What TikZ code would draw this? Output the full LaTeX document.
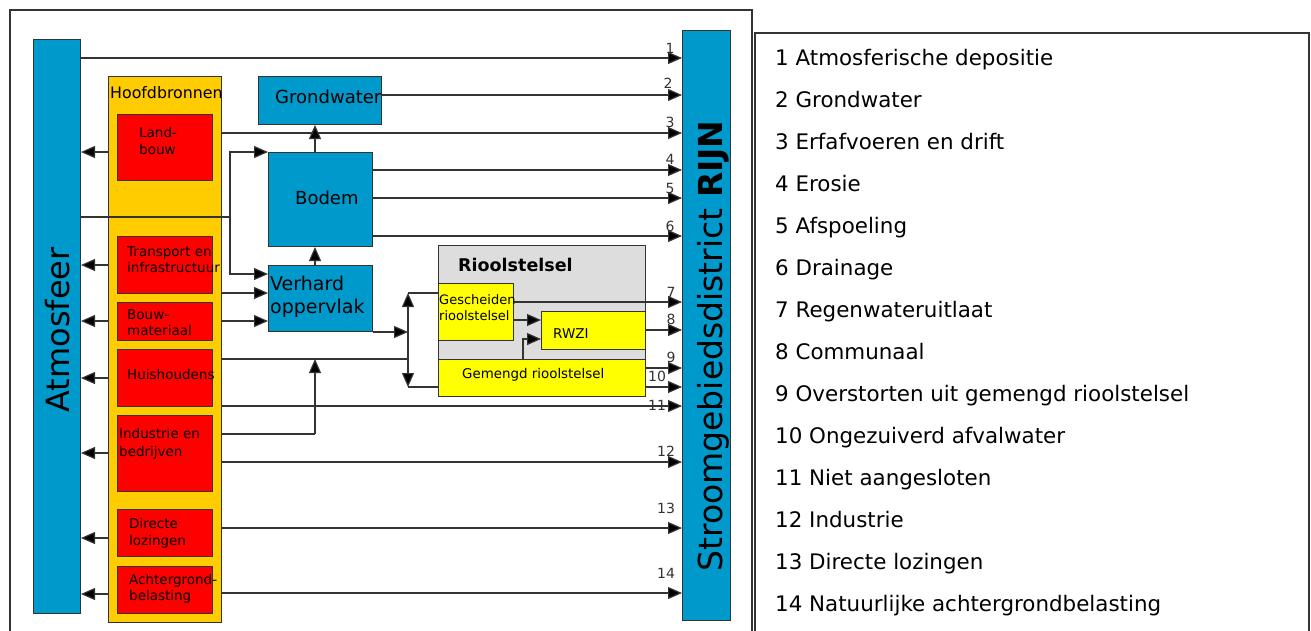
\documentclass[tikz,border=0pt]{standalone}
\usepackage{fontspec}
\setmainfont{DejaVu Sans}
\usetikzlibrary{arrows.meta}
\definecolor{cblue}{HTML}{0099CC}
\definecolor{corange}{HTML}{FFCC00}
\definecolor{cred}{HTML}{FF0000}
\definecolor{cyel}{HTML}{FFFF00}
\definecolor{cgray}{HTML}{DDDDDD}
\definecolor{cline}{HTML}{333333}
\newcommand\myfs[2]{\fontsize{#1}{#2}\selectfont}
\begin{document}
\begin{tikzpicture}[x=1pt,y=-1pt,
 box/.style={draw=cline, line width=1pt, inner sep=0pt, anchor=north west},
 ln/.style={draw=cline, line width=1.2pt},
 arr/.style={ln, -{Triangle[length=14pt,width=12pt,fill=black]}},
 txt/.style={inner sep=0pt, anchor=west, align=left},
 num/.style={inner sep=0pt, font=\myfs{14}{14}, text=cline},
 leg/.style={inner sep=0pt, anchor=base west, font=\myfs{21.4}{24}},
]
\useasboundingbox (0,0) rectangle (1311,630);
\fill[white] (0,0) rectangle (1311,630);
% frames
\draw[ln] (10,640) -- (10,10) -- (752,10) -- (752,640);
\draw[ln] (755,640) -- (755,33) -- (1309,33) -- (1309,640);
% boxes
\node[box, fill=cblue, minimum width=47pt, minimum height=574pt] (atm) at (33,39) {};
\node[box, fill=corange, minimum width=113pt, minimum height=546pt] (hoof) at (108,76) {};
\node[box, fill=cred, minimum width=95pt, minimum height=66pt] (land) at (117,114) {};
\node[box, fill=cred, minimum width=95pt, minimum height=57pt] (trans) at (117,236) {};
\node[box, fill=cred, minimum width=95pt, minimum height=38pt] (bouw) at (117,302) {};
\node[box, fill=cred, minimum width=95pt, minimum height=57pt] (huis) at (117,349) {};
\node[box, fill=cred, minimum width=95pt, minimum height=76pt] (ind) at (117,415) {};
\node[box, fill=cred, minimum width=95pt, minimum height=47pt] (dir) at (117,509) {};
\node[box, fill=cred, minimum width=95pt, minimum height=47pt] (acht) at (117,566) {};
\node[box, fill=cblue, minimum width=123pt, minimum height=48pt] (grond) at (258,76) {};
\node[box, fill=cblue, minimum width=104pt, minimum height=94pt] (bodem) at (268,152) {};
\node[box, fill=cblue, minimum width=104pt, minimum height=66pt] (verh) at (268,265) {};
\node[box, fill=cgray, minimum width=207pt, minimum height=125pt] (riool) at (438,245) {};
\node[box, fill=cyel, minimum width=75pt, minimum height=57pt] (gesch) at (438,283) {};
\node[box, fill=cyel, minimum width=104pt, minimum height=38pt] (rwzi) at (541,311) {};
\node[box, fill=cyel, minimum width=207pt, minimum height=37pt] (gem) at (438,359) {};
\node[box, fill=cblue, minimum width=48pt, minimum height=590pt] (str) at (682,30) {};
% texts
\node[inner sep=0pt, rotate=90, font=\myfs{32}{32}] (atmtxt) at (58,330) {Atmosfeer};
\node[inner sep=0pt, rotate=90, font=\myfs{33}{33}] (strtxt) at (713,346) {Stroomgebiedsdistrict \textbf{RIJN}};
\node[txt, font=\myfs{15.8}{18}] (hooftxt) at (110,93) {Hoofdbronnen};
\node[txt, font=\myfs{13.5}{17}] (landtxt) at (139,141) {Land-\\bouw};
\node[txt, font=\myfs{13.5}{16}] (transtxt) at (127,260) {Transport en\\infrastructuur};
\node[txt, font=\myfs{13.5}{16}] (bouwtxt) at (127,323) {Bouw-\\materiaal};
\node[txt, font=\myfs{13.5}{16}] (huistxt) at (127,374) {Huishoudens};
\node[txt, font=\myfs{13.5}{18}] (indtxt) at (119,444) {Industrie en\\bedrijven};
\node[txt, font=\myfs{13.5}{17}] (dirtxt) at (129,533) {Directe\\lozingen};
\node[txt, font=\myfs{13.5}{16}] (achttxt) at (129,589) {Achtergrond-\\belasting};
\node[txt, font=\myfs{18}{18}] (grondtxt) at (275,97) {Grondwater};
\node[txt, font=\myfs{18}{18}] (bodemtxt) at (295,198) {Bodem};
\node[txt, font=\myfs{19}{23}] (verhtxt) at (270,297) {Verhard\\oppervlak};
\node[txt, font=\myfs{17.5}{17.5}\bfseries] (rioltxt) at (458,265) {Rioolstelsel};
\node[txt, font=\myfs{13}{16}] (geschtxt) at (439,308) {Gescheiden\\rioolstelsel};
\node[txt, font=\myfs{13.5}{13.5}] (rwzitxt) at (553,334) {RWZI};
\node[txt, font=\myfs{13.4}{13.4}] (gemtxt) at (462,375) {Gemengd rioolstelsel};
% connectors to the river
\draw[arr] (atm.east |- 0,58) -- (str.west |- 0,58);
\draw[arr] (grond.east |- 0,95) -- (str.west |- 0,95);
\draw[arr] (hoof.east |- 0,133) -- (str.west |- 0,133);
\draw[arr] (bodem.east |- 0,170) -- (str.west |- 0,170);
\draw[arr] (bodem.east |- 0,198) -- (str.west |- 0,198);
\draw[arr] (bodem.east |- 0,236) -- (str.west |- 0,236);
\draw[arr] (gesch.east |- 0,302) -- (str.west |- 0,302);
\draw[arr] (rwzi.east |- 0,330) -- (str.west |- 0,330);
\draw[arr] (gem.east |- 0,368) -- (str.west |- 0,368);
\draw[arr] (gem.east |- 0,387) -- (str.west |- 0,387);
\draw[arr] (hoof.east |- 0,406) -- (str.west |- 0,406);
\draw[arr] (hoof.east |- 0,462) -- (str.west |- 0,462);
\draw[arr] (hoof.east |- 0,528) -- (str.west |- 0,528);
\draw[arr] (hoof.east |- 0,593) -- (str.west |- 0,593);
% to the atmosphere
\foreach \yy in {152,265,321,378,453,538,594}
  \draw[arr] (hoof.west |- 0,\yy) -- (atm.east |- 0,\yy);
% internal
\draw[arr] (bodem.north -| 315,0) -- (grond.south -| 315,0);
\draw[arr] (verh.north -| 315,0) -- (bodem.south -| 315,0);
\coordinate (j1) at (230,217);
\draw[ln] (atm.east |- j1) -- (j1);
\draw[arr] (j1) |- (bodem.west |- 0,152);
\draw[arr] (j1) |- (verh.west |- 0,274);
\draw[arr] (hoof.east |- 0,293) -- (verh.west |- 0,293);
\draw[arr] (hoof.east |- 0,321) -- (verh.west |- 0,321);
\coordinate (j2) at (408,330);
\coordinate (j3) at (408,293);
\coordinate (j4) at (408,387);
\draw[arr] (verh.south east) -- (j2 |- verh.south east);
\draw[arr] (j2) -- (j3);
\draw[ln] (j3) -- (gesch.west |- j3);
\draw[arr] (j2) -- (j4);
\draw[ln] (j4) -- (gem.west |- j4);
\draw[ln] (hoof.east |- 0,359) -- (j2 |- 0,359);
\coordinate (j5) at (315,434);
\draw[ln] (hoof.east |- j5) -- (j5);
\draw[arr] (j5) -- (315,359);
\draw[arr] (gesch.east |- 0,320) -- (rwzi.west |- 0,320);
\draw[arr] (gem.north -| 523,0) |- (rwzi.west |- 0,339);
% numbers
\node[num] (n1) at (670,48) {1};
\node[num] (n2) at (668,83) {2};
\node[num] (n3) at (670,122) {3};
\node[num] (n4) at (670,159) {4};
\node[num] (n5) at (670,188) {5};
\node[num] (n6) at (670,226) {6};
\node[num] (n7) at (671,292) {7};
\node[num] (n8) at (671,319) {8};
\node[num] (n9) at (671,357) {9};
\node[num] (n10) at (657,376) {10};
\node[num] (n11) at (657,405) {11};
\node[num] (n12) at (666,451) {12};
\node[num] (n13) at (666,508) {13};
\node[num] (n14) at (666,573) {14};
% legend
\node[leg] (l1) at (775,65) {1 Atmosferische depositie};
\node[leg] (l2) at (775,107) {2 Grondwater};
\node[leg] (l3) at (775,149) {3 Erfafvoeren en drift};
\node[leg] (l4) at (775,191) {4 Erosie};
\node[leg] (l5) at (775,233) {5 Afspoeling};
\node[leg] (l6) at (775,275) {6 Drainage};
\node[leg] (l7) at (775,317) {7 Regenwateruitlaat};
\node[leg] (l8) at (775,359) {8 Communaal};
\node[leg] (l9) at (775,401) {9 Overstorten uit gemengd rioolstelsel};
\node[leg] (l10) at (775,443) {10 Ongezuiverd afvalwater};
\node[leg] (l11) at (775,485) {11 Niet aangesloten};
\node[leg] (l12) at (775,527) {12 Industrie};
\node[leg] (l13) at (775,569) {13 Directe lozingen};
\node[leg] (l14) at (775,611) {14 Natuurlijke achtergrondbelasting};
\end{tikzpicture}
\end{document}
